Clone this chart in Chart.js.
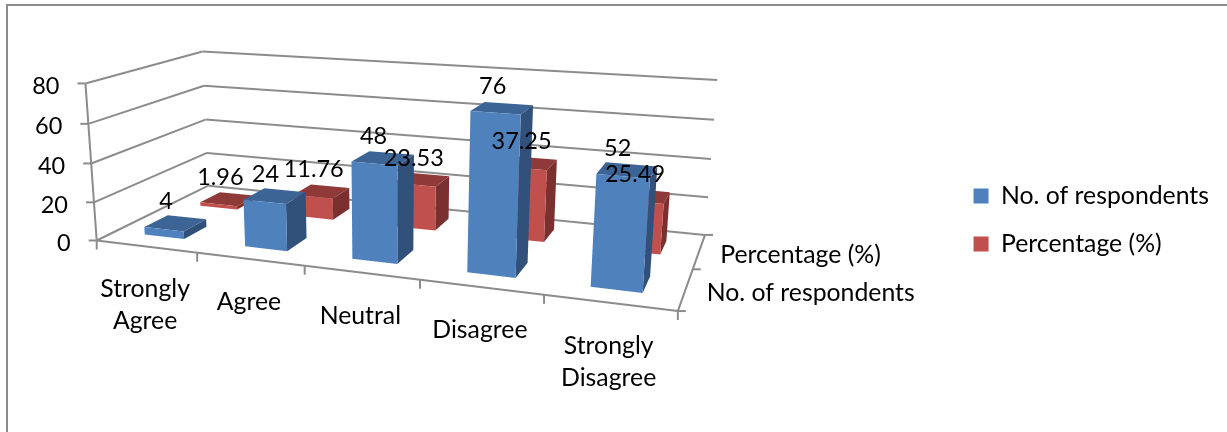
<!DOCTYPE html>
<html>
<head>
<meta charset="utf-8">
<title>Survey responses</title>
<script src="https://cdn.jsdelivr.net/npm/chart.js@4/dist/chart.umd.js"></script>
<style>
  html, body { margin: 0; padding: 0; background: #fff; }
  .chartBox {
    position: absolute; left: 0; top: 0; width: 1227px; height: 432px;
    overflow: hidden;
  }
  .chartBox::before {
    content: ""; position: absolute; left: 6px; top: 4px; right: -5px; bottom: -5px;
    border: 2px solid #8c8c8c;
  }
  canvas { position: absolute; left: 0; top: 0; }
</style>
</head>
<body>
<div class="chartBox"><canvas id="chart" width="1227" height="432"></canvas></div>
<script>
const categories = [["Strongly", "Agree"], "Agree", "Neutral", "Disagree", ["Strongly", "Disagree"]];
const seriesNames = ["No. of respondents", "Percentage (%)"];
const respondents = [4, 24, 48, 76, 52];
const percentages = [1.96, 11.76, 23.53, 37.25, 25.49];
const valueTicks = { min: 0, max: 80, stepSize: 20 };

const FONT = "Lato, sans-serif";
const TEXT_SIZE = 24.8;
const NUMBER_SIZE = 23.5;
const GRID = "#8c8c8c";
const BAR_SHARE = 0.4; // gap width 150%, same along x and depth

// where the corners of the plot box land on the canvas: [u, d, v, px, py]
// u = along categories, d = depth, v = up the value axis
const boxCorners = [
  [0, 0, 0, 97, 240],
  [1, 0, 0, 678, 311],
  [0, 1, 0, 208, 186],
  [1, 1, 0, 705, 235],
  [0, 0, 1, 85, 84],
  [0, 1, 1, 203, 51],
  [1, 1, 1, 717, 80],
];

// least squares fit of the perspective projection, 11 unknowns
function fitProjection(points) {
  const rows = [];
  const rhs = [];
  points.forEach(([u, d, v, x, y]) => {
    rows.push([u, d, v, 1, 0, 0, 0, 0, -x * u, -x * d, -x * v]);
    rhs.push(x);
    rows.push([0, 0, 0, 0, u, d, v, 1, -y * u, -y * d, -y * v]);
    rhs.push(y);
  });
  const n = 11;
  const m = [];
  for (let i = 0; i < n; i++) {
    m[i] = [];
    for (let j = 0; j < n; j++) {
      m[i][j] = rows.reduce((sum, r) => sum + r[i] * r[j], 0);
    }
    m[i][n] = rows.reduce((sum, r, k) => sum + r[i] * rhs[k], 0);
  }
  for (let c = 0; c < n; c++) {
    let pivot = c;
    for (let r = c + 1; r < n; r++) {
      if (Math.abs(m[r][c]) > Math.abs(m[pivot][c])) pivot = r;
    }
    [m[c], m[pivot]] = [m[pivot], m[c]];
    for (let r = 0; r < n; r++) {
      if (r === c) continue;
      const f = m[r][c] / m[c][c];
      for (let j = c; j <= n; j++) m[r][j] -= f * m[c][j];
    }
  }
  return m.map((row, i) => row[n] / row[i]);
}

const P = fitProjection(boxCorners);

function project(u, d, v) {
  const w = P[8] * u + P[9] * d + P[10] * v + 1;
  return {
    x: (P[0] * u + P[1] * d + P[2] * v + P[3]) / w,
    y: (P[4] * u + P[5] * d + P[6] * v + P[7]) / w,
  };
}

function fillQuad(ctx, pts, color) {
  ctx.beginPath();
  pts.forEach((p, i) => (i ? ctx.lineTo(p.x, p.y) : ctx.moveTo(p.x, p.y)));
  ctx.closePath();
  ctx.fillStyle = color;
  ctx.fill();
}

function line3d(ctx, a, b) {
  const p = project(...a);
  const q = project(...b);
  ctx.beginPath();
  ctx.moveTo(p.x, p.y);
  ctx.lineTo(q.x, q.y);
  ctx.stroke();
}

// bar controller that draws each bar as a box in the projected plot
class Bar3DController extends Chart.BarController {
  draw() {
    const ctx = this.chart.ctx;
    const meta = this.getMeta();
    const { iScale, vScale } = meta;
    const zScale = this.chart.scales.z;
    const ds = this.getDataset();
    const dMid = zScale.getDecimalForPixel(zScale.getPixelForValue(this.index));
    const dHalf = BAR_SHARE / zScale.getLabels().length / 2;
    meta.data.forEach((bar) => {
      const u0 = iScale.getDecimalForPixel(bar.x - bar.width / 2);
      const u1 = iScale.getDecimalForPixel(bar.x + bar.width / 2);
      const v0 = vScale.getDecimalForPixel(bar.base);
      const v1 = vScale.getDecimalForPixel(bar.y);
      const d0 = dMid - dHalf;
      const d1 = dMid + dHalf;
      fillQuad(ctx, [project(u0, d0, v1), project(u1, d0, v1), project(u1, d1, v1), project(u0, d1, v1)], ds.topColor);
      fillQuad(ctx, [project(u1, d0, v0), project(u1, d1, v0), project(u1, d1, v1), project(u1, d0, v1)], ds.sideColor);
      fillQuad(ctx, [project(u0, d0, v0), project(u1, d0, v0), project(u1, d0, v1), project(u0, d0, v1)], ds.backgroundColor);
    });
  }
}
Bar3DController.id = "bar3d";
Bar3DController.defaults = Chart.BarController.defaults;
Bar3DController.overrides = Chart.BarController.overrides;
Chart.register(Bar3DController);

// walls, floor, axis lines and the axis text
const boxFrame = {
  id: "boxFrame",
  beforeDatasetsDraw(chart) {
    const { ctx, scales } = chart;
    const { x: xScale, y: yScale, z: zScale } = scales;
    ctx.save();
    ctx.strokeStyle = GRID;
    ctx.lineWidth = 2;
    ctx.lineCap = "butt";
    yScale.ticks.forEach((tick) => {
      const v = yScale.getDecimalForPixel(yScale.getPixelForValue(tick.value));
      line3d(ctx, [0, 0, v], [0, 1, v]);
      line3d(ctx, [0, 1, v], [1, 1, v]);
      const p = project(0, 0, v);
      ctx.beginPath();
      ctx.moveTo(p.x - 8, p.y);
      ctx.lineTo(p.x, p.y);
      ctx.stroke();
    });
    line3d(ctx, [0, 0, 0], [0, 0, 1]);
    line3d(ctx, [0, 0, 0], [1, 0, 0]);
    line3d(ctx, [1, 0, 0], [1, 1, 0]);

    // category ticks hang off the front edge, depth ticks off the side edge
    for (let i = 0; i <= categories.length; i++) {
      const p = project(i / categories.length, 0, 0);
      ctx.beginPath();
      ctx.moveTo(p.x, p.y);
      ctx.lineTo(p.x, p.y + 9);
      ctx.stroke();
    }
    for (let i = 0; i <= seriesNames.length; i++) {
      const p = project(1, i / seriesNames.length, 0);
      ctx.beginPath();
      ctx.moveTo(p.x, p.y);
      ctx.lineTo(p.x + 8, p.y);
      ctx.stroke();
    }

    ctx.fillStyle = "#000";
    ctx.textBaseline = "middle";
    ctx.font = NUMBER_SIZE + "px " + FONT;
    ctx.textAlign = "right";
    yScale.ticks.forEach((tick) => {
      const v = yScale.getDecimalForPixel(yScale.getPixelForValue(tick.value));
      const p = project(0, 0, v);
      ctx.fillText(tick.label, p.x - 26, p.y + 3);
    });
    ctx.font = TEXT_SIZE + "px " + FONT;
    ctx.textAlign = "center";
    xScale.ticks.forEach((tick, i) => {
      const u = xScale.getDecimalForPixel(xScale.getPixelForValue(i));
      const p = project(u, 0, 0);
      [].concat(tick.label).forEach((text, row) => {
        ctx.fillText(text, p.x - 1, p.y + 43 + row * 32);
      });
    });
    ctx.textAlign = "left";
    zScale.getLabels().forEach((label, i) => {
      const d = zScale.getDecimalForPixel(zScale.getPixelForValue(i));
      const p = project(1, d, 0);
      ctx.fillText(label, p.x + 21, p.y + 3.5);
    });
    ctx.restore();
  },
  afterDatasetsDraw(chart) {
    const { ctx, scales } = chart;
    const { y: yScale, z: zScale } = scales;
    ctx.save();
    ctx.fillStyle = "#000";
    ctx.font = NUMBER_SIZE + "px " + FONT;
    ctx.textAlign = "center";
    ctx.textBaseline = "middle";
    chart.data.datasets.forEach((ds, i) => {
      const d = zScale.getDecimalForPixel(zScale.getPixelForValue(i));
      chart.getDatasetMeta(i).data.forEach((bar, j) => {
        const u = scales.x.getDecimalForPixel(bar.x);
        const v = yScale.getDecimalForPixel(bar.y);
        const p = project(u, d, v);
        ctx.fillText(String(ds.data[j]), p.x - 9.5 + i * 1.5, p.y - 21.5);
      });
    });
    ctx.restore();
  },
};

new Chart(document.getElementById("chart"), {
  type: "bar3d",
  data: {
    labels: categories,
    datasets: [
      {
        label: seriesNames[0],
        data: respondents,
        backgroundColor: "#4f81bd",
        topColor: "#3c6494",
        sideColor: "#31517a",
      },
      {
        label: seriesNames[1],
        data: percentages,
        backgroundColor: "#c0504d",
        topColor: "#8f3a38",
        sideColor: "#7a302e",
      },
    ],
  },
  options: {
    responsive: false,
    animation: false,
    grouped: false,
    categoryPercentage: 1,
    barPercentage: BAR_SHARE,
    clip: false,
    layout: { padding: { top: 8, right: 8 } },
    scales: {
      x: { type: "category", offset: true, display: false },
      y: { type: "linear", display: false, min: valueTicks.min, max: valueTicks.max, ticks: { stepSize: valueTicks.stepSize } },
      z: { type: "category", axis: "y", labels: seriesNames, offset: true, display: false },
    },
    plugins: {
      legend: {
        position: "right",
        labels: {
          boxWidth: 15,
          boxHeight: 15,
          padding: 23.2,
          color: "#000",
          font: { family: FONT, size: TEXT_SIZE },
        },
      },
      tooltip: { enabled: false },
    },
  },
  plugins: [boxFrame],
});
</script>
</body>
</html>
